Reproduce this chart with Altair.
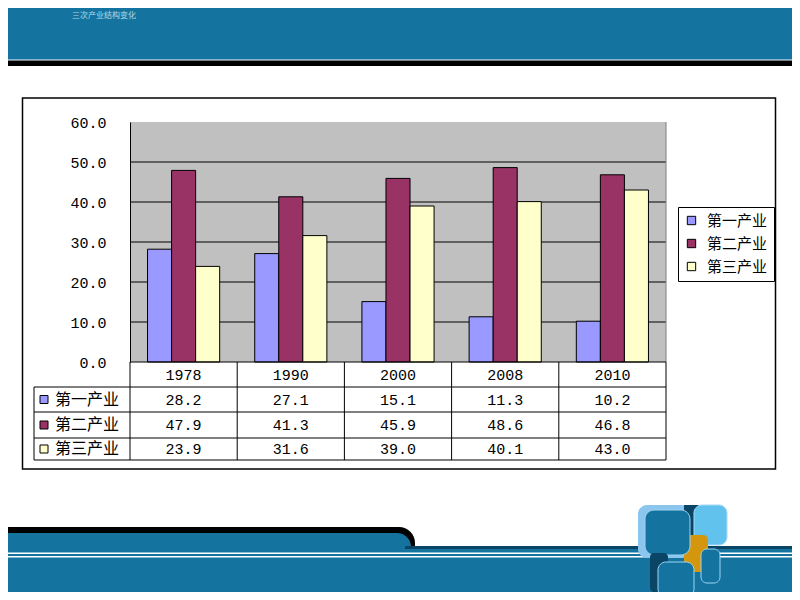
import altair as alt
import pandas as pd

# ---------------- data ----------------
years = ["1978", "1990", "2000", "2008", "2010"]
series = ["第一产业", "第二产业", "第三产业"]
primary = [28.2, 27.1, 15.1, 11.3, 10.2]
secondary = [47.9, 41.3, 45.9, 48.6, 46.8]
tertiary = [23.9, 31.6, 39.0, 40.1, 43.0]
colors = ["#9999FF", "#993366", "#FFFFCC"]
y_ticks = [0, 10, 20, 30, 40, 50, 60]
grid_vals = [10, 20, 30, 40, 50]
title_text = "三次产业结构变化"

values_by_series = [primary, secondary, tertiary]
rows = []
for s, vals in zip(series, values_by_series):
    for yr, v in zip(years, vals):
        rows.append({"year": yr, "series": s, "value": v})
df = pd.DataFrame(rows)

# ---------------- layout (screen pixels) ----------------
OX, OY = 130, 122          # plot origin on screen
PW, PH = 536, 240          # plot size
FONT_CN = "Noto Sans CJK SC"
FONT_NUM = "Liberation Mono"
BLUE = "#15749F"
NAVY = "#0B4566"

dummy = alt.Data(values=[{"a": 1}])


def box(x1, y1, x2, y2, **kw):
    return alt.Chart(dummy).mark_rect(**kw).encode(
        x=alt.value(x1 - OX), x2=alt.value(x2 - OX),
        y=alt.value(y1 - OY), y2=alt.value(y2 - OY))


def seg(x1, y1, x2, y2, color="black", width=1.0):
    return alt.Chart(dummy).mark_rule(color=color, strokeWidth=width).encode(
        x=alt.value(x1 - OX), x2=alt.value(x2 - OX),
        y=alt.value(y1 - OY), y2=alt.value(y2 - OY))


def label(x, y, text, **kw):
    return alt.Chart(dummy).mark_text(text=text, **kw).encode(
        x=alt.value(x - OX), y=alt.value(y - OY))


y_scale = alt.Scale(domain=[0, 60], nice=False)
y_axis = alt.Axis(values=y_ticks, format=".1f", title=None, grid=False,
                  ticks=False, labelPadding=24, labelFont=FONT_NUM,
                  labelFontSize=15, labelColor="black", domainColor="black",
                  domainWidth=1, labelOverlap=False, labelBound=False, zindex=1)

layers = []

# header band
layers += [
    box(0, 0, 800, 59.5, color=BLUE),
    box(0, 60.5, 800, 66, color="black"),
    label(72, 16, title_text, color="#DDEEF6", fontSize=8, font=FONT_CN, align="left",
          baseline="middle", opacity=0.8),
]

# bottom decoration
layers += [
    box(0, 527, 415, 575, color="black", cornerRadiusTopRight=16),
    box(0, 533, 411, 600, color=BLUE, cornerRadiusTopRight=14),
    box(405, 546, 800, 600, color=NAVY),
    box(0, 549, 800, 600, color=BLUE),
    box(0, 552.5, 800, 554, color="white"),
    box(0, 556, 800, 557.5, color="white"),
]

# logo
layers += [
    box(638, 505, 690, 558, color="#8CC6EF", cornerRadius=9),
    box(684, 505, 700, 545, color=NAVY),
    box(694, 505, 727, 545, color="#62C2EE", cornerRadius=8, stroke="#A8DAF7", strokeWidth=1),
    box(684, 535, 708, 572, color="#D4960C", cornerRadius=5),
    box(645, 510, 690, 555, color=BLUE, cornerRadius=9, stroke="#9ED4F4", strokeWidth=1),
    box(650, 553, 668, 592, color=NAVY, cornerRadius=4),
    box(658, 562, 694, 597, color=BLUE, cornerRadius=8, stroke="#9ED4F4", strokeWidth=1),
    box(701, 549, 720, 583, color=BLUE, cornerRadius=6, stroke="#9ED4F4", strokeWidth=1),
]

# chart frame
layers.append(box(22.5, 98, 775.5, 469, fill="white", stroke="black", strokeWidth=1.5))

# plot background
layers.append(box(OX, OY, OX + PW, OY + PH, color="#C0C0C0"))

# gridlines
grid = alt.Chart(pd.DataFrame({"g": grid_vals})).mark_rule(color="black", strokeWidth=1).encode(
    y=alt.Y("g:Q", scale=y_scale, axis=y_axis), x=alt.value(0), x2=alt.value(PW))
layers.append(grid)
layers.append(seg(OX + PW, OY, OX + PW, OY + PH, color="#808080"))

# bars
bars = alt.Chart(df).mark_bar(stroke="black", strokeWidth=1).encode(
    x=alt.X("year:N", sort=years, axis=None,
            scale=alt.Scale(paddingInner=0.327, paddingOuter=0.1636)),
    xOffset=alt.XOffset("series:N", sort=series, scale=alt.Scale(paddingInner=0)),
    y=alt.Y("value:Q", scale=y_scale, axis=y_axis),
    color=alt.Color("series:N", sort=series,
                    scale=alt.Scale(domain=series, range=colors),
                    legend=alt.Legend(orient="none", legendX=548, legendY=85, title=None,
                                      strokeColor="black", fillColor="white", padding=6,
                                      symbolType="square", symbolSize=70,
                                      symbolStrokeColor="black", symbolStrokeWidth=1,
                                      labelFont=FONT_CN, labelFontSize=15, labelColor="black",
                                      rowPadding=7, labelOffset=8, zindex=1)),
)
layers.append(bars)

# data table lines
col_edges = [OX + i * PW / len(years) for i in range(len(years) + 1)]
row_lines = [387, 412, 438, 460]
layers.append(seg(OX, 362, OX + PW, 362))
for ry in row_lines:
    layers.append(seg(34, ry, OX + PW, ry))
layers.append(seg(34, 387, 34, 460))
for cx in col_edges:
    layers.append(seg(cx, 362, cx, 460))

# header years
hdr = alt.Chart(pd.DataFrame({"year": years})).mark_text(
    font=FONT_NUM, fontSize=15, color="black", baseline="middle").encode(
    x=alt.X("year:N", sort=years), text="year:N", y=alt.value(374.5 - OY))
layers.append(hdr)

row_centers = [399.5, 425, 449]
for s, vals, rc in zip(series, values_by_series, row_centers):
    tdf = pd.DataFrame({"year": years, "value": vals, "series": s})
    layers.append(alt.Chart(tdf).mark_text(
        font=FONT_NUM, fontSize=15, color="black", baseline="middle").encode(
        x=alt.X("year:N", sort=years), text=alt.Text("value:Q", format=".1f"),
        y=alt.value(rc - OY)))
    # row label square + text
    layers.append(alt.Chart(pd.DataFrame({"series": [s]})).mark_point(
        shape="square", filled=True, size=64, stroke="black", strokeWidth=1, opacity=1).encode(
        color=alt.Color("series:N", sort=series, scale=alt.Scale(domain=series, range=colors)),
        x=alt.value(44 - OX), y=alt.value(rc - OY)))
    layers.append(alt.Chart(pd.DataFrame({"series": [s]})).mark_text(
        font=FONT_CN, fontSize=16, color="black", align="left", baseline="middle").encode(
        text="series:N", x=alt.value(55 - OX), y=alt.value(rc - OY)))

chart = alt.layer(*layers).properties(
    width=PW, height=PH,
    padding={"left": OX - 8, "top": OY - 8, "right": 784 - (OX - 8) - PW, "bottom": 584 - (OY - 8) - PH},
    autosize=alt.AutoSizeParams(type="none"),
).configure_view(strokeWidth=0).configure(background="white")

chart.save("out.html", embed_options={"renderer": "svg", "actions": False})
